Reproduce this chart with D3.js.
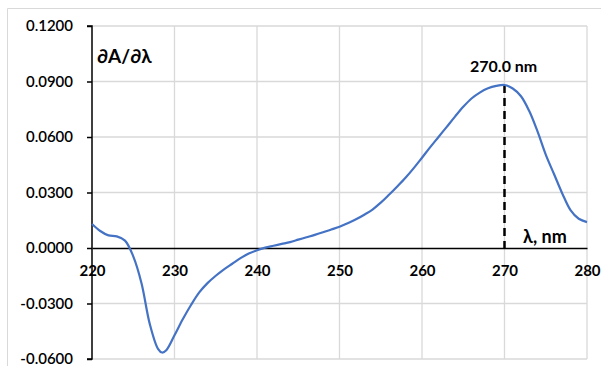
<!DOCTYPE html>
<html>
<head>
<meta charset="utf-8">
<script src="https://cdn.jsdelivr.net/npm/d3@7"></script>
<style>
  html, body { margin: 0; padding: 0; background: #fff; }
  svg { display: block; font-family: Lato, "Open Sans", sans-serif; }
</style>
</head>
<body>
<svg id="chart" width="601" height="366"></svg>
<script>
// First-derivative spectrum dA/dλ over 220–280 nm
const wavelength = [220, 221, 222, 223, 224, 225, 226, 227, 228, 228.5, 229, 230, 231, 232, 233, 234, 235, 236, 237, 238, 239, 240,
  241, 242, 243, 244, 245, 246, 247, 248, 249, 250, 251, 252, 253, 254, 255, 256, 257, 258, 259, 260,
  261, 262, 263, 264, 265, 266, 267, 268, 269, 270, 271, 272, 273, 274, 275, 276, 277, 278, 279, 280];
const derivative = [0.0130, 0.0092, 0.0068, 0.0063, 0.0040, -0.0045, -0.0190, -0.0410, -0.0545, -0.0565, -0.0553, -0.0472, -0.0385, -0.0308, -0.0240, -0.0190, -0.0150, -0.0115, -0.0085, -0.0055, -0.0030, -0.0012,
  0.0002, 0.0012, 0.0022, 0.0032, 0.0045, 0.0058, 0.0071, 0.0085, 0.0100, 0.0115, 0.0134, 0.0155, 0.0180, 0.0208, 0.0245, 0.0288, 0.0333, 0.0380, 0.0432, 0.0488,
  0.0545, 0.0600, 0.0655, 0.0710, 0.0763, 0.0808, 0.0840, 0.0863, 0.0876, 0.0881, 0.0862, 0.0820, 0.0740, 0.0630, 0.0505, 0.0400, 0.0295, 0.0205, 0.0158, 0.0140];

const xTicks = [220, 230, 240, 250, 260, 270, 280];
const yTicks = [-0.06, -0.03, 0, 0.03, 0.06, 0.09, 0.12];
const peakWavelength = 270.0;
const peakValue = 0.0881;

const svg = d3.select("#chart");
const plotLeft = 92, plotRight = 587, plotTop = 26, plotBottom = 359;

const x = d3.scaleLinear().domain([220, 280]).range([plotLeft, plotRight]);
const y = d3.scaleLinear().domain([-0.06, 0.12]).range([plotBottom, plotTop]);

// outer chart frame
svg.append("path")
  .attr("d", `M7.5,366 V8.5 H601`)
  .attr("fill", "none").attr("stroke", "#d9d9d9").attr("stroke-width", 1);

// gridlines
svg.append("g").selectAll("line").data(yTicks.filter(d => d !== 0)).join("line")
  .attr("x1", plotLeft).attr("x2", plotRight)
  .attr("y1", d => y(d)).attr("y2", d => y(d))
  .attr("stroke", "#d9d9d9").attr("stroke-width", 1.3);
svg.append("g").selectAll("line").data(xTicks.slice(1)).join("line")
  .attr("x1", d => x(d)).attr("x2", d => x(d))
  .attr("y1", plotTop).attr("y2", plotBottom)
  .attr("stroke", "#d9d9d9").attr("stroke-width", 1.3);

// y axis with outside ticks
const yAxis = d3.axisLeft(y).tickValues(yTicks).tickSize(5).tickPadding(14)
  .tickFormat(d => d3.format(".4f")(d).replace("−", "-"));
const gy = svg.append("g").attr("transform", `translate(${plotLeft},0)`).call(yAxis);
gy.select(".domain").attr("stroke", "#000").attr("stroke-width", 1.5).attr("d", `M-5,${plotTop}H0V${plotBottom}H-5`);
gy.selectAll(".tick line").attr("stroke", "#000").attr("stroke-width", 1.5);
gy.selectAll(".tick text").attr("fill", "#000").attr("font-size", 15).attr("font-weight", 600)
  .attr("font-family", "Lato, sans-serif");

// x axis along the zero line
const xAxis = d3.axisBottom(x).tickValues(xTicks).tickSize(0).tickPadding(17).tickFormat(d3.format("d"));
const gx = svg.append("g").attr("transform", `translate(0,${y(0)})`).call(xAxis);
gx.select(".domain").attr("stroke", "#000").attr("stroke-width", 1.5);
gx.selectAll(".tick text").attr("fill", "#000").attr("font-size", 15).attr("font-weight", 700)
  .attr("font-family", "Lato, sans-serif");

// marker of the maximum
svg.append("line")
  .attr("x1", x(peakWavelength)).attr("x2", x(peakWavelength))
  .attr("y1", y(peakValue)).attr("y2", y(0))
  .attr("stroke", "#000").attr("stroke-width", 2.5).attr("stroke-dasharray", "8,5");

// derivative curve
const line = d3.line()
  .x((d, i) => x(wavelength[i]))
  .y(d => y(d))
  .curve(d3.curveCatmullRom.alpha(0.5));
svg.append("path")
  .attr("d", line(derivative))
  .attr("fill", "none").attr("stroke", "#4472C4").attr("stroke-width", 2.2);

// labels
svg.append("text").attr("x", 97).attr("y", 63).text("∂A/∂λ")
  .attr("font-size", 19).attr("font-weight", 700).attr("fill", "#000");
svg.append("text").attr("x", 470).attr("y", 72).text(`${peakWavelength.toFixed(1)} nm`)
  .attr("font-size", 16).attr("font-weight", 700).attr("fill", "#000");
svg.append("text").attr("x", 523).attr("y", 243).text("λ, nm")
  .attr("font-size", 18).attr("font-weight", 700).attr("fill", "#000");
</script>
</body>
</html>
